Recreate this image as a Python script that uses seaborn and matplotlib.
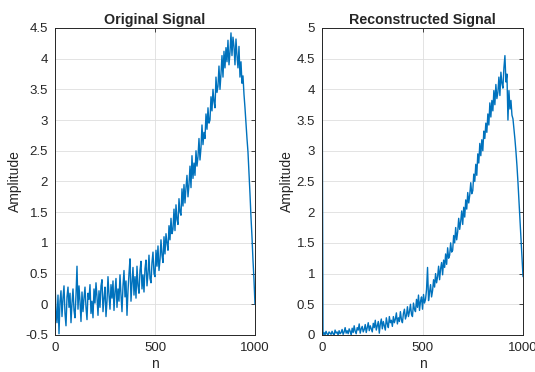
import numpy as np
import pandas as pd
import matplotlib
matplotlib.use("Agg")
import matplotlib.pyplot as plt
import seaborn as sns

# sample index (every 5th sample)
n = np.arange(0, 1001, 5)

original = [
    0.38, -0.12, -0.3, 0.15, -0.48, 0.05, 0.22, -0.2, 0.1, 0.3,
    -0.15, -0.35, 0.12, 0.28, -0.05, 0.18, -0.3, 0.02, 0.25, -0.1,
    -0.22, 0.15, 0.62, -0.08, 0.3, 0.05, -0.28, 0.2, -0.12, 0.1,
    0.28, -0.05, -0.25, 0.18, 0.08, 0.32, -0.15, 0.05, -0.22, 0.25,
    0.02, 0.35, 0.12, -0.18, 0.22, -0.05, 0.3, 0.4, -0.12, 0.1,
    0.28, -0.2, 0.05, 0.45, 0.15, -0.08, 0.32, 0.1, 0.38, -0.1,
    0.2, 0.42, -0.05, 0.25, 0.05, 0.48, 0.15, -0.12, 0.3, 0.55,
    0.12, 0.38, -0.18, 0.22, 0.5, 0.74, 0.05, 0.35, 0.6, 0.15,
    0.45, 0.1, 0.62, 0.3, 0.18, 0.55, 0.7, 0.25, 0.48, 0.2,
    0.58, 0.72, 0.3, 0.5, 0.8, 0.42, 0.35, 0.68, 0.85, 0.5,
    0.45, 0.88, 0.62, 0.95, 0.55, 0.72, 1.05, 0.8, 0.68, 1.1,
    0.82, 1.15, 1.0, 0.88, 1.28, 1.05, 1.4, 1.15, 1.22, 1.55,
    1.2, 1.62, 1.38, 1.3, 1.72, 1.5, 1.45, 1.88, 1.6, 1.95,
    1.65, 1.9, 2.1, 1.75, 1.95, 2.25, 1.9, 2.42, 2.05, 2.3,
    2.1, 2.5, 2.25, 2.4, 2.7, 2.35, 2.55, 2.92, 2.6, 2.8,
    2.7, 3.1, 2.85, 3.2, 2.95, 3.0, 3.38, 3.15, 3.5, 3.3,
    3.2, 3.7, 3.45, 3.55, 3.88, 3.5, 3.75, 4.05, 3.7, 4.12,
    3.85, 4.18, 3.95, 4.3, 3.9, 4.1, 4.42, 4.05, 4.35, 4.2,
    3.9, 4.32, 4.05, 3.85, 4.2, 3.7, 3.95, 3.6, 3.72, 3.42,
    3.2, 2.95, 2.7, 2.48, 2.15, 1.8, 1.42, 1.1, 0.72, 0.4,
    0.0,
]

reconstructed = [
    4.75, 0.01, 0.04, 0.0, 0.06, 0.02, 0.0, 0.05, 0.03, 0.01,
    0.06, 0.02, 0.0, 0.08, 0.03, 0.05, 0.0, 0.07, 0.02, 0.04,
    0.09, 0.01, 0.05, 0.12, 0.03, 0.07, 0.02, 0.1, 0.06, 0.0,
    0.11, 0.04, 0.15, 0.06, 0.02, 0.12, 0.08, 0.18, 0.03, 0.1,
    0.14, 0.05, 0.09, 0.17, 0.04, 0.12, 0.2, 0.07, 0.15, 0.1,
    0.05, 0.19, 0.12, 0.24, 0.08, 0.15, 0.22, 0.03, 0.18, 0.26,
    0.1, 0.22, 0.15, 0.08, 0.28, 0.18, 0.12, 0.3, 0.2, 0.24,
    0.14, 0.3, 0.2, 0.26, 0.36, 0.18, 0.28, 0.22, 0.38, 0.25,
    0.2, 0.35, 0.42, 0.26, 0.32, 0.46, 0.3, 0.38, 0.5, 0.34,
    0.3, 0.52, 0.42, 0.38, 0.58, 0.45, 0.65, 0.4, 0.55, 0.62,
    0.42, 0.66, 0.52, 0.58, 0.74, 1.1, 0.56, 0.7, 0.82, 0.62,
    0.72, 0.9, 0.78, 1.0, 0.85, 0.95, 1.12, 0.9, 1.08, 1.18,
    0.98, 1.22, 1.1, 1.32, 1.15, 1.42, 1.25, 1.3, 1.5, 1.35,
    1.38, 1.62, 1.5, 1.75, 1.55, 1.68, 1.9, 1.72, 1.85, 2.02,
    1.8, 2.08, 1.92, 2.2, 2.05, 2.32, 2.15, 2.28, 2.48, 2.3,
    2.35, 2.62, 2.5, 2.78, 2.6, 2.95, 2.8, 3.12, 2.92, 3.18,
    3.0, 3.32, 3.2, 3.45, 3.3, 3.6, 3.42, 3.78, 3.55, 3.82,
    3.65, 3.98, 3.75, 4.08, 3.85, 3.95, 4.2, 3.9, 4.28, 4.1,
    4.02, 4.35, 4.55, 4.12, 4.25, 3.5, 3.98, 3.68, 3.82, 3.58,
    3.52, 3.35, 3.18, 2.98, 2.75, 2.48, 2.18, 1.88, 1.58, 1.3,
    0.95,
]

x_ticks = [0, 500, 1000]
y_ticks_orig = [-0.5, 0, 0.5, 1, 1.5, 2, 2.5, 3, 3.5, 4, 4.5]
y_ticks_rec = [0, 0.5, 1, 1.5, 2, 2.5, 3, 3.5, 4, 4.5, 5]

df = pd.DataFrame({"n": n, "Original": original, "Reconstructed": reconstructed})

sns.set_style("white")
plt.rcParams["font.family"] = ["Liberation Sans", "DejaVu Sans"]
plt.rcParams["axes.unicode_minus"] = False

fig = plt.figure(figsize=(5.35, 3.72), dpi=100)
ax1 = fig.add_axes([0.1028, 0.0995, 0.3738, 0.8253])
ax2 = fig.add_axes([0.6019, 0.0995, 0.3757, 0.8253])

panels = [
    (ax1, "Original", "Original Signal", (-0.5, 4.5), y_ticks_orig),
    (ax2, "Reconstructed", "Reconstructed Signal", (0, 5), y_ticks_rec),
]

for ax, col, title, ylim, yt in panels:
    sns.lineplot(data=df, x="n", y=col, ax=ax, color="#0072BD", linewidth=1.0)
    ax.set_xlim(0, 1000)
    ax.set_ylim(*ylim)
    ax.set_xticks(x_ticks)
    ax.set_xticklabels([str(t) for t in x_ticks])
    ax.set_yticks(yt)
    ax.set_yticklabels([f"{t:g}" for t in yt])
    ax.grid(True, color="#dedede", linewidth=0.6)
    ax.set_axisbelow(True)
    ax.tick_params(direction="in", length=3, width=0.6, top=True, right=True,
                   labelsize=9.5, colors="#262626", pad=5)
    for s in ax.spines.values():
        s.set_color("#262626")
        s.set_linewidth(0.7)
    ax.set_title(title, fontsize=10.3, fontweight="bold", pad=3)
    ax.set_xlabel("n", fontsize=10, color="#262626", labelpad=2)
    ax.set_ylabel("Amplitude", fontsize=10, color="#262626", labelpad=2)

fig.savefig("out.png", dpi=100)
